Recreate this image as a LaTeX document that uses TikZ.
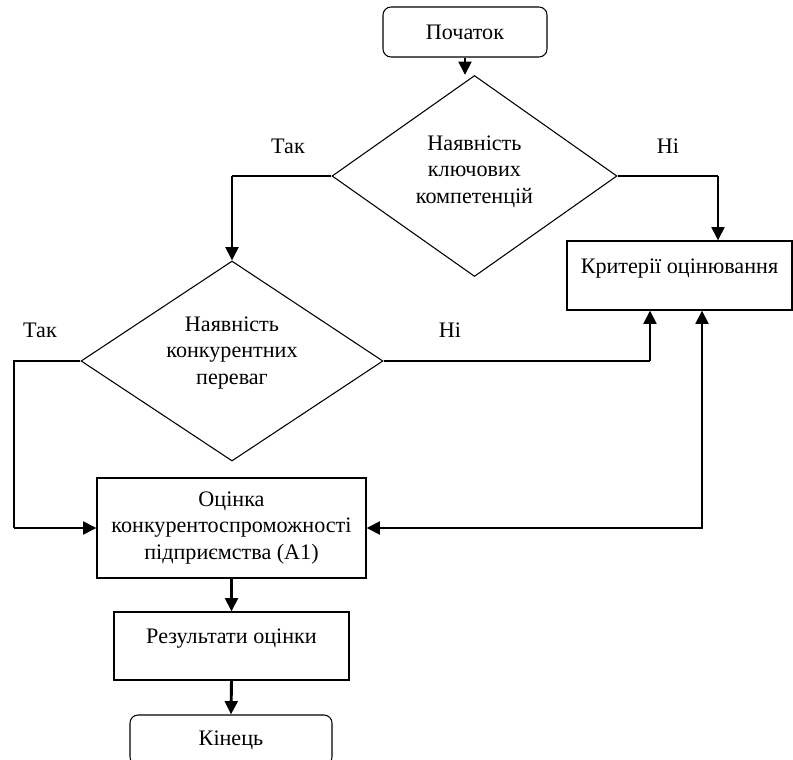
\documentclass[tikz,border=0pt]{standalone}
\usepackage{fontspec}
\setmainfont{Liberation Serif}
\usetikzlibrary{shapes.geometric,arrows.meta}

\begin{document}
\begin{tikzpicture}[x=0.75pt,y=-0.75pt,
		every node/.style={font=\fontsize{16.6}{19.8}\selectfont, inner sep=2pt},
		termbox/.style={draw, line width=0.8pt, rounded corners=6pt},
		procbox/.style={draw, line width=0.8pt, rectangle, align=center},
		decbox/.style={draw, line width=0.8pt, diamond, aspect=1.5, align=center, inner sep=0pt},
		link/.style={line width=0.8pt},
		flow/.style={line width=2.2pt, -{Triangle[length=10pt,width=9.5pt]}},
		twoway/.style={line width=2.2pt, {Triangle[length=10pt,width=9.5pt]}-{Triangle[length=10pt,width=9.5pt]}}]
		%%%%% START %%%%%
		
		\useasboundingbox (0, 0) rectangle (793, 760);
		
		\node[termbox, minimum width=123pt, minimum height=37.5pt] (start) at (465, 32) {Початок};
		\node[decbox, minimum width=213.75pt, minimum height=150.75pt, text depth=10pt] (d1) at (474.5, 176) {Наявність\\ключових\\компетенцій};
		\node[procbox, minimum width=168.75pt, minimum height=51.75pt, text depth=13.5pt] (crit) at (679.5, 275.5) {Критерії оцінювання};
		\node[decbox, minimum width=226.5pt, minimum height=150pt, text depth=15.5pt] (d2) at (232, 361) {Наявність\\конкурентних\\переваг};
		\node[procbox, minimum width=201.75pt, minimum height=75pt] (a1) at (231.5, 528) {Оцінка\\конкурентоспроможності\\підприємства (А1)};
		\node[procbox, minimum width=176.25pt, minimum height=51pt, text depth=15.5pt] (res) at (231.5, 646) {Результати оцінки};
		\node[termbox, minimum width=151.5pt, minimum height=37.5pt] (end) at (231, 740) {Кінець};
		
		\node (yes1) at (288, 146) {Так};
		\node (no1) at (668, 146) {Ні};
		\node (yes2) at (40, 330) {Так};
		\node (no2) at (450, 330) {Ні};
		
		\coordinate (c1) at (d1.west -| d2.north);
		\coordinate (c2) at (718, 176);
		\coordinate (c3) at (14, 361);
		\coordinate (c4) at (14, 528);
		\coordinate (c5) at (650, 361);
		\coordinate (c6) at (702, 528);
		
		\draw[flow] (start.south) -- (start.south |- d1.north);
		
		\draw[link] (d1.west) -- (c1);
		\draw[flow] (c1) -- (d2.north);
		\draw[link] (d1.east) -- (c2);
		\draw[flow] (c2) -- (c2 |- crit.north);
		
		\draw[link] (d2.west) -- (c3) -- (c4);
		\draw[flow] (c4) -- (a1.west);
		\draw[link] (d2.east) -- (c5);
		\draw[flow] (c5) -- (c5 |- crit.south);
		
		\draw[twoway] (a1.east) -- (c6) -- (c6 |- crit.south);
		
		\draw[flow] (a1.south) -- (res.north);
		\draw[flow] (res.south) -- (end.north);
		
		%%%%% END %%%%%
	\end{tikzpicture}
\end{document}
